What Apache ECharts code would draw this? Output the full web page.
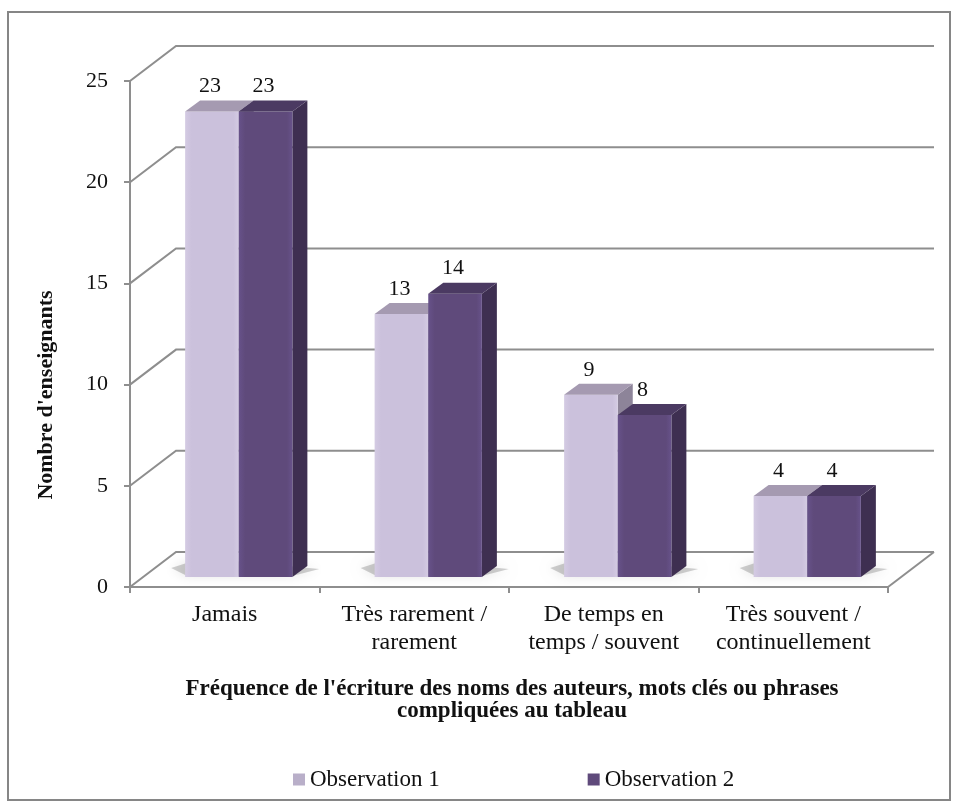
<!DOCTYPE html>
<html>
<head>
<meta charset="utf-8">
<script src="https://cdn.jsdelivr.net/npm/echarts@6/dist/echarts.min.js"></script>
<style>
html,body{margin:0;padding:0;background:#fff;}
#chart{width:959px;height:808px;}
</style>
</head>
<body>
<div id="chart"></div>
<script>
// ---- data ----
var categories = ["Jamais", "Très rarement /\nrarement", "De temps en\ntemps / souvent", "Très souvent /\ncontinuellement"];
var seriesNames = ["Observation 1", "Observation 2"];
var obs1 = [23, 13, 9, 4];
var obs2 = [23, 14, 8, 4];
var yTicks = [0, 5, 10, 15, 20, 25];
var yAxisTitle = "Nombre d'enseignants";
var xAxisTitle = "Fréquence de l'écriture des noms des auteurs, mots clés ou phrases\ncompliquées au tableau";

// ---- styles ----
var FONT = "'Liberation Serif', 'DejaVu Serif', serif";
var GRID_COLOR = '#8e8e8e';
var WALL_DX = 46, WALL_DY = -35;   // depth of the back wall
var PLANE_DX = 14, PLANE_DY = -10; // depth where bar front faces sit
var BAR_DX = 15, BAR_DY = -11;     // bar depth
var BAR_FRAC = 0.283;
var palette = [
  {front: '#cbc1dc', frontL: '#d4cbe3', top: '#a59ab1', side: '#8d8499', legend: '#b9afc9'},
  {front: '#5f4a7b', frontL: '#67528a', top: '#4b3a62', side: '#3e2f51', legend: '#5f4a7b'}
];

function toPairs(arr) { return arr.map(function (v, i) { return [i, v]; }); }

function barRender(sIdx) {
  return function (params, api) {
    var ci = api.value(0), v = api.value(1);
    var base = api.coord([ci, 0]);
    var top = api.coord([ci, v]);
    var bw = api.size([1, 0])[0];
    var w = bw * BAR_FRAC;
    var cx = base[0] + PLANE_DX;
    var x0 = cx - w + sIdx * w;
    var yb = base[1] + PLANE_DY;
    var yt = top[1] + PLANE_DY;
    var c = palette[sIdx];
    var children = [];
    if (sIdx === 0) {
      var px = cx - w;
      children.push({
        type: 'polygon',
        shape: {points: [[px - 14, yb - 9], [px + 2, yb - 1], [px + 2 * w, yb - 1], [px + 2 * w + BAR_DX + 12, yb + BAR_DY + 3], [px + BAR_DX + 2, yb + BAR_DY - 8]]},
        style: {fill: 'rgba(0,0,0,0.18)', shadowBlur: 12, shadowColor: 'rgba(0,0,0,0.6)'}
      });
    }
    children.push({
      type: 'polygon',
      shape: {points: [[x0 + w, yt], [x0 + w + BAR_DX, yt + BAR_DY], [x0 + w + BAR_DX, yb + BAR_DY], [x0 + w, yb]]},
      style: {fill: c.side}
    });
    children.push({
      type: 'rect',
      shape: {x: x0, y: yt, width: w, height: yb - yt},
      style: {fill: {type: 'linear', x: 0, y: 0, x2: 1, y2: 0, colorStops: [
        {offset: 0, color: c.frontL}, {offset: 0.12, color: c.front}, {offset: 0.9, color: c.front}, {offset: 1, color: c.frontL}]}}
    });
    children.push({
      type: 'polygon',
      shape: {points: [[x0, yt], [x0 + w, yt], [x0 + w + BAR_DX, yt + BAR_DY], [x0 + BAR_DX, yt + BAR_DY]]},
      style: {fill: c.top}
    });
    children.push({
      type: 'text',
      style: {text: String(v), x: x0 + w / 2 - 2, y: yt - 25, align: 'center', verticalAlign: 'middle',
        font: '22px ' + FONT, fill: '#111'}
    });
    return {type: 'group', children: children};
  };
}

function wallRender(params, api) {
  var bw = api.size([1, 0])[0];
  var n = categories.length;
  var lines = [];
  var ls = {stroke: GRID_COLOR, lineWidth: 2, fill: null};
  yTicks.forEach(function (t) {
    var pL = api.coord([0, t]);
    var pR = api.coord([n - 1, t]);
    var xl = pL[0] - bw / 2, xr = pR[0] + bw / 2, y = pL[1];
    lines.push({type: 'polyline', shape: {points: [[xl, y], [xl + WALL_DX, y + WALL_DY], [xr + WALL_DX, y + WALL_DY]]}, style: ls});
    if (t === 0) {
      lines.push({type: 'line', shape: {x1: xr, y1: y, x2: xr + WALL_DX, y2: y + WALL_DY}, style: ls});
    }
  });
  return {type: 'group', children: lines};
}

var chart = echarts.init(document.getElementById('chart'), null, {renderer: 'canvas'});
chart.setOption({
  animation: false,
  backgroundColor: '#fff',
  graphic: [{
    type: 'rect', shape: {x: 8, y: 12, width: 942, height: 788},
    style: {fill: null, stroke: '#868686', lineWidth: 2}, silent: true
  }, {
    type: 'text', x: 46, y: 395, rotation: Math.PI / 2, silent: true,
    style: {text: yAxisTitle, align: 'center', verticalAlign: 'middle',
      font: 'bold 22px ' + FONT, fill: '#111'}
  }],
  grid: {left: 130, top: 81, right: 71, bottom: 221, containLabel: false},
  legend: {
    data: seriesNames,
    left: 288, top: 763,
    itemWidth: 12, itemHeight: 12, itemGap: 148,
    icon: 'rect',
    textStyle: {fontFamily: FONT, fontSize: 23, color: '#111', width: 135}
  },
  xAxis: {
    type: 'category',
    data: categories,
    axisLine: {show: true, lineStyle: {color: GRID_COLOR, width: 2}},
    axisTick: {show: true, length: 6, lineStyle: {color: GRID_COLOR, width: 2}},
    axisLabel: {fontFamily: FONT, fontSize: 24, color: '#111', lineHeight: 28, margin: 14, interval: 0},
    name: xAxisTitle,
    nameLocation: 'middle',
    nameGap: 91,
    nameTextStyle: {fontFamily: FONT, fontSize: 23, fontWeight: 'bold', color: '#111', lineHeight: 22, padding: [0, 0, 0, 6]}
  },
  yAxis: {
    type: 'value', min: 0, max: 25, interval: 5,
    axisLine: {show: true, lineStyle: {color: GRID_COLOR, width: 2}},
    axisTick: {show: true, length: 6, lineStyle: {color: GRID_COLOR, width: 2}},
    splitLine: {show: false},
    axisLabel: {fontFamily: FONT, fontSize: 22, color: '#111', margin: 22}
  },
  series: [
    {type: 'custom', name: 'walls', data: [[0, 0]], renderItem: wallRender, silent: true, z: 1, encode: {x: 0, y: 1}},
    {type: 'custom', name: seriesNames[0], data: toPairs(obs1), renderItem: barRender(0), z: 2,
      itemStyle: {color: palette[0].legend}, encode: {x: 0, y: 1}},
    {type: 'custom', name: seriesNames[1], data: toPairs(obs2), renderItem: barRender(1), z: 3,
      itemStyle: {color: palette[1].legend}, encode: {x: 0, y: 1}}
  ]
});
</script>
</body>
</html>
